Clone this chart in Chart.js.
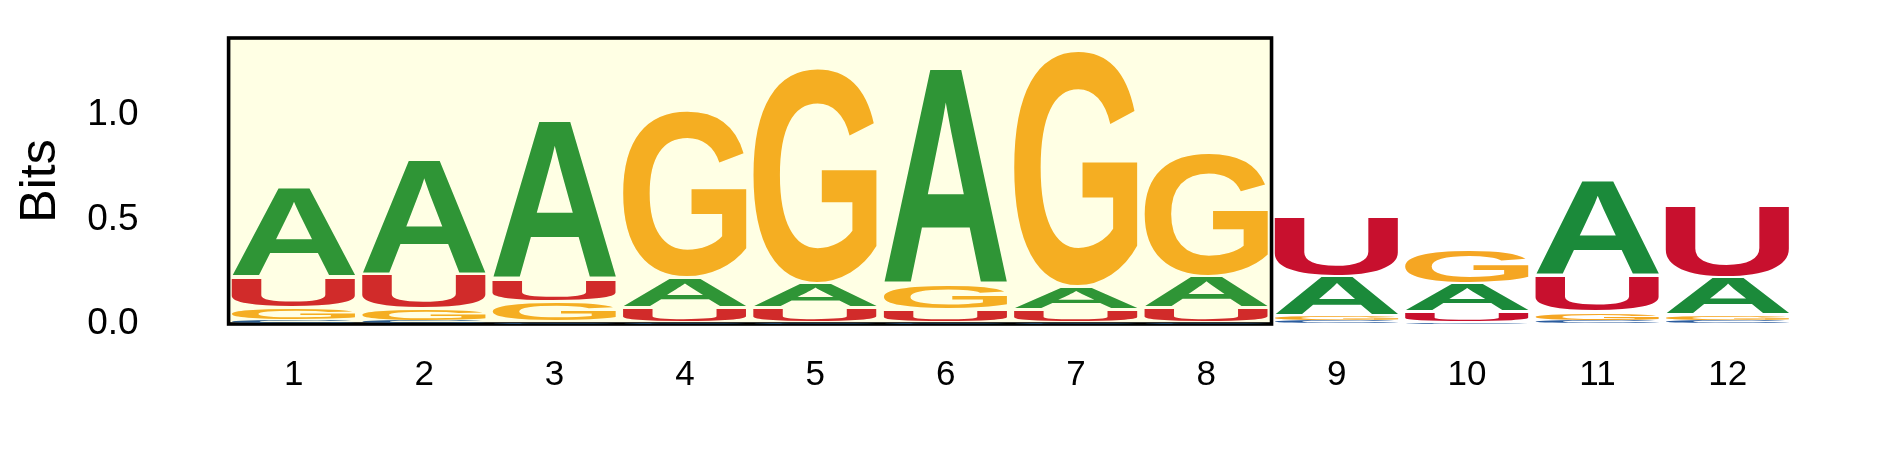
<!DOCTYPE html>
<html>
<head>
<meta charset="utf-8">
<script src="https://cdn.jsdelivr.net/npm/chart.js@4.4.1/dist/chart.umd.min.js"></script>
<style>
  html, body { margin: 0; padding: 0; background: #fff; }
  #wrap { width: 1889px; height: 472px; }
</style>
</head>
<body>
<div id="wrap"><canvas id="logo"></canvas></div>
<script>
// positions along the motif
const positions = ['1', '2', '3', '4', '5', '6', '7', '8', '9', '10', '11', '12']

// information (bits) per letter, one value per position
const bitsA = [0.431, 0.547, 0.760, 0.140, 0.115, 1.034, 0.110, 0.150, 0.190, 0.135, 0.454, 0.180]
const bitsC = [0.017, 0.015, 0.012, 0.010, 0.010, 0.010, 0.010, 0.010, 0.015, 0.010, 0.015, 0.015]
const bitsG = [0.063, 0.060, 0.095, 0.800, 1.030, 0.120, 1.130, 0.590, 0.025, 0.165, 0.045, 0.030]
const bitsU = [0.144, 0.165, 0.105, 0.070, 0.070, 0.060, 0.060, 0.070, 0.287, 0.050, 0.170, 0.340]

const yTicks = [0, 0.5, 1.0]
const yMax = 1.368
const highlightRange = [1, 8] // highlighted positions (inclusive)

const letters = ['A', 'C', 'G', 'U']
const series = { A: bitsA, C: bitsC, G: bitsG, U: bitsU }
const colorsIn = { A: '#2f9536', C: '#2a5a8c', G: '#f5ae22', U: '#d12b2a' }
const colorsOut = { A: '#1b8a3a', C: '#2b5c9e', G: '#f5a623', U: '#c8102e' }

// smallest letter at the bottom of each stack, biggest on top
const ranked = positions.map((p, i) =>
  letters.map(l => ({ l: l, v: series[l][i] })).sort((a, b) => a.v - b.v))

const datasets = [0, 1, 2, 3].map(r => ({
  label: 'rank ' + r,
  data: ranked.map(col => col[r].v),
  letters: ranked.map(col => col[r].l),
  backgroundColor: 'rgba(0,0,0,0)',
  borderWidth: 0,
  barPercentage: 0.95,
  categoryPercentage: 1
}))

function inHighlight (i) {
  return i + 1 >= highlightRange[0] && i + 1 <= highlightRange[1]
}

// stretch one glyph so it fills a rectangle
function drawGlyph (ctx, ch, color, left, top, width, height) {
  ctx.save()
  ctx.font = 'bold 200px "Liberation Sans", Arial, sans-serif'
  ctx.textBaseline = 'alphabetic'
  ctx.textAlign = 'left'
  const m = ctx.measureText(ch)
  const gw = m.actualBoundingBoxLeft + m.actualBoundingBoxRight
  const gh = m.actualBoundingBoxAscent + m.actualBoundingBoxDescent
  ctx.translate(left, top)
  ctx.scale(width / gw, height / gh)
  ctx.translate(m.actualBoundingBoxLeft, m.actualBoundingBoxAscent)
  ctx.fillStyle = color
  ctx.fillText(ch, 0, 0)
  ctx.restore()
}

const highlightBox = {
  id: 'highlightBox',
  beforeDatasetsDraw (chart) {
    const ctx = chart.ctx
    const x = chart.scales.x
    const y = chart.scales.y
    const colW = x.width / positions.length
    const left = x.getPixelForValue(highlightRange[0] - 1) - colW / 2
    const right = x.getPixelForValue(highlightRange[1] - 1) + colW / 2
    const top = y.getPixelForValue(yMax)
    const bottom = y.getPixelForValue(0)
    ctx.save()
    ctx.fillStyle = '#ffffe4'
    ctx.fillRect(left, top, right - left, bottom - top)
    ctx.strokeStyle = '#000'
    ctx.lineWidth = 3.6
    ctx.strokeRect(left, top, right - left, bottom - top)
    ctx.restore()
  }
}

const logoLetters = {
  id: 'logoLetters',
  afterDatasetsDraw (chart) {
    const ctx = chart.ctx
    chart.data.datasets.forEach((ds, di) => {
      chart.getDatasetMeta(di).data.forEach((bar, i) => {
        const p = bar.getProps(['x', 'y', 'base', 'width'], true)
        let top = Math.min(p.y, p.base)
        let h = Math.abs(p.base - p.y)
        const pad = Math.min(1.2, h * 0.15)
        top += pad
        h -= 2 * pad
        if (h < 0.6) return
        const ch = ds.letters[i]
        const col = inHighlight(i) ? colorsIn[ch] : colorsOut[ch]
        drawGlyph(ctx, ch, col, p.x - p.width / 2, top, p.width, h)
      })
    })
  }
}

const ctx = document.getElementById('logo').getContext('2d')
new Chart(ctx, {
  type: 'bar',
  data: { labels: positions, datasets: datasets },
  options: {
    responsive: true,
    maintainAspectRatio: false,
    animation: false,
    devicePixelRatio: 1,
    layout: { padding: { top: 38, right: 96, left: 0, bottom: 0 } },
    plugins: { legend: { display: false }, tooltip: { enabled: false } },
    scales: {
      x: {
        stacked: true,
        grid: { display: false, drawTicks: false },
        border: { display: false },
        ticks: {
          color: '#000',
          padding: 30,
          maxRotation: 0,
          font: { family: '"Liberation Sans", Arial, sans-serif', size: 35 }
        },
        afterFit (scale) { scale.height = 148 }
      },
      y: {
        stacked: true,
        min: 0,
        max: yMax,
        grid: { display: false, drawTicks: false },
        border: { display: false },
        afterBuildTicks (scale) { scale.ticks = yTicks.map(v => ({ value: v })) },
        ticks: {
          color: '#000',
          padding: 90,
          font: { family: '"Liberation Sans", Arial, sans-serif', size: 37 },
          callback: v => Number(v).toFixed(1)
        },
        title: {
          display: true,
          text: 'Bits',
          color: '#000',
          padding: { top: 11, bottom: 0 },
          font: { family: '"Liberation Sans", Arial, sans-serif', size: 50 }
        },
        afterFit (scale) {
          scale.width = 228.6
          scale.paddingTop = 0
          scale.paddingBottom = 0
        }
      }
    }
  },
  plugins: [highlightBox, logoLetters]
})
</script>
</body>
</html>
